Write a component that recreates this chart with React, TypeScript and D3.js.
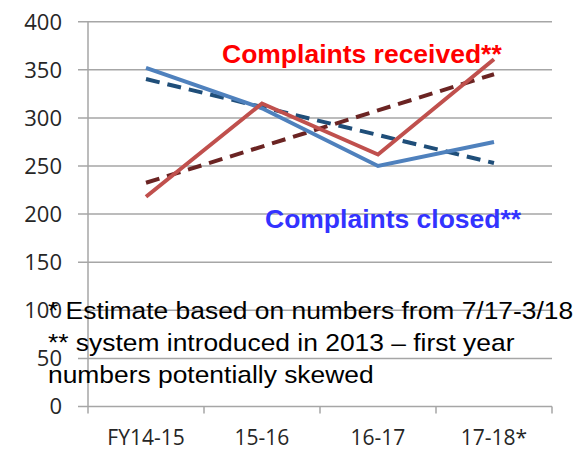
import { useEffect, useRef } from 'react';
import * as d3 from 'd3';

const categories = ['FY14-15', '15-16', '16-17', '17-18*'];
const received = [218, 315, 262, 361];
const closed = [352, 310, 250, 275];
const yTicks = [0, 50, 100, 150, 200, 250, 300, 350, 400];
const footnotes = [
  '* Estimate based on numbers from 7/17-3/18',
  '** system introduced in 2013 \u2013 first year',
  'numbers potentially skewed',
];

const W = 583;
const H = 452;

// least-squares trend line over the category index
const trend = (vals: number[]) => {
  const n = vals.length;
  const mx = (n - 1) / 2;
  const my = d3.mean(vals) as number;
  let num = 0;
  let den = 0;
  vals.forEach((v, i) => {
    num += (i - mx) * (v - my);
    den += (i - mx) * (i - mx);
  });
  const slope = num / den;
  return vals.map((_, i) => my + slope * (i - mx));
};

export default function App() {
  const svgRef = useRef<SVGSVGElement>(null);

  useEffect(() => {
    if (!svgRef.current) return;
    const svg = d3.select(svgRef.current);
    svg.selectAll('*').remove();

    const left = 88;
    const right = 552;
    const top = 21.7;
    const bottom = 406.5;

    const x = d3.scaleBand<string>().domain(categories).range([left, right]);
    const y = d3.scaleLinear().domain([0, 400]).range([bottom, top]);
    const cx = (i: number) => (x(categories[i]) as number) + x.bandwidth() / 2;

    // gridlines
    svg
      .append('g')
      .selectAll('line')
      .data(yTicks)
      .join('line')
      .attr('x1', left - 10)
      .attr('x2', right)
      .attr('y1', (d) => y(d))
      .attr('y2', (d) => y(d))
      .attr('stroke', '#a6a6a6')
      .attr('stroke-width', 1.5);

    // y axis line
    svg
      .append('line')
      .attr('x1', left)
      .attr('x2', left)
      .attr('y1', top)
      .attr('y2', bottom)
      .attr('stroke', '#a6a6a6')
      .attr('stroke-width', 1.5);

    // x tick marks at band edges
    const edges = categories.map((c) => x(c) as number).concat([right]);
    svg
      .append('g')
      .selectAll('line')
      .data(edges)
      .join('line')
      .attr('x1', (d) => d)
      .attr('x2', (d) => d)
      .attr('y1', bottom)
      .attr('y2', bottom + 7)
      .attr('stroke', '#a6a6a6')
      .attr('stroke-width', 1.5);

    // y labels
    svg
      .append('g')
      .selectAll('text')
      .data(yTicks)
      .join('text')
      .attr('x', 62)
      .attr('y', (d) => y(d))
      .attr('dy', '0.36em')
      .attr('text-anchor', 'end')
      .attr('font-family', 'Open Sans, sans-serif')
      .attr('font-size', 22)
      .attr('fill', '#262626')
      .text((d) => d);

    // x labels
    svg
      .append('g')
      .selectAll('text')
      .data(categories)
      .join('text')
      .attr('x', (_, i) => cx(i))
      .attr('y', 445)
      .attr('text-anchor', 'middle')
      .attr('font-family', 'Open Sans, sans-serif')
      .attr('font-size', 21)
      .attr('fill', '#262626')
      .text((d) => d);

    const line = d3
      .line<number>()
      .x((_, i) => cx(i))
      .y((d) => y(d));

    // trend lines
    svg
      .append('path')
      .attr('d', line(trend(closed)))
      .attr('fill', 'none')
      .attr('stroke', '#1f4e79')
      .attr('stroke-width', 4)
      .attr('stroke-dasharray', '14 8');
    svg
      .append('path')
      .attr('d', line(trend(received)))
      .attr('fill', 'none')
      .attr('stroke', '#6b2423')
      .attr('stroke-width', 4)
      .attr('stroke-dasharray', '14 8');

    // series
    svg
      .append('path')
      .attr('d', line(closed))
      .attr('fill', 'none')
      .attr('stroke', '#4f81bd')
      .attr('stroke-width', 4);
    svg
      .append('path')
      .attr('d', line(received))
      .attr('fill', 'none')
      .attr('stroke', '#c0504d')
      .attr('stroke-width', 4);

    // series labels (slightly stretched horizontally like the source)
    svg
      .append('text')
      .attr('transform', 'translate(222,63) scale(1.06,1)')
      .attr('font-family', 'Liberation Sans, Arial, sans-serif')
      .attr('font-weight', 'bold')
      .attr('font-size', 25)
      .attr('fill', '#ff0000')
      .text('Complaints received**');
    svg
      .append('text')
      .attr('transform', 'translate(265,228) scale(1.06,1)')
      .attr('font-family', 'Liberation Sans, Arial, sans-serif')
      .attr('font-weight', 'bold')
      .attr('font-size', 25)
      .attr('fill', '#3333ff')
      .text('Complaints closed**');

    // footnotes
    svg
      .append('g')
      .attr('transform', 'translate(48,319) scale(1.1,1)')
      .selectAll('text')
      .data(footnotes)
      .join('text')
      .attr('x', 0)
      .attr('y', (_, i) => i * 32)
      .attr('font-family', 'Liberation Sans, Arial, sans-serif')
      .attr('font-size', 24)
      .attr('fill', '#000')
      .text((d) => d);
  }, []);

  return (
    <svg
      ref={svgRef}
      width={W}
      height={H}
      style={{ position: 'absolute', left: 0, top: 0, background: '#fff' }}
    />
  );
}
